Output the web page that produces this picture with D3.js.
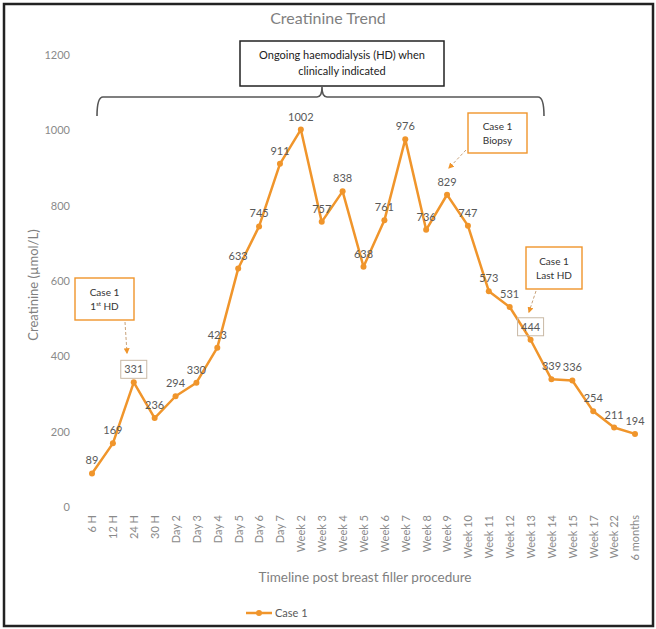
<!DOCTYPE html>
<html>
<head>
<meta charset="utf-8">
<script src="https://cdn.jsdelivr.net/npm/d3@7"></script>
<style>
  html, body { margin: 0; padding: 0; background: #fff; }
  svg { display: block; font-family: Lato, "Open Sans", sans-serif; }
</style>
</head>
<body>
<svg id="chart" width="656" height="629"></svg>
<script>
// Creatinine measurements for Case 1 over time
const timepoints = ["6 H", "12 H", "24 H", "30 H", "Day 2", "Day 3", "Day 4", "Day 5", "Day 6", "Day 7",
  "Week 2", "Week 3", "Week 4", "Week 5", "Week 6", "Week 7", "Week 8", "Week 9", "Week 10", "Week 11",
  "Week 12", "Week 13", "Week 14", "Week 15", "Week 17", "Week 22", "6 months"];
const case1 = [89, 169, 331, 236, 294, 330, 423, 633, 745, 911, 1002, 757, 838, 638, 761, 976, 736, 829,
  747, 573, 531, 444, 339, 336, 254, 211, 194];
const yTicks = [0, 200, 400, 600, 800, 1000, 1200];

const W = 656, H = 629;
const orange = "#F0952B";
const grey = "#7f7f7f";

const svg = d3.select("#chart");

// outer frame
svg.append("rect").attr("x", 4).attr("y", 4).attr("width", W - 7).attr("height", H - 7)
  .attr("fill", "none").attr("stroke", "#222").attr("stroke-width", 2.5);

const x = d3.scalePoint().domain(timepoints).range([92, 635]);
const y = d3.scaleLinear().domain([0, 1200]).range([507, 55]);

// title
svg.append("text").attr("x", 328).attr("y", 24).attr("text-anchor", "middle")
  .attr("font-size", 16).attr("fill", grey).text("Creatinine Trend");

// y axis (labels only)
const yAxis = svg.append("g").attr("transform", "translate(78,0)")
  .call(d3.axisLeft(y).tickValues(yTicks).tickFormat(d3.format("d")).tickSize(0).tickPadding(8));
yAxis.select(".domain").remove();
yAxis.selectAll("text").attr("font-size", 11).attr("fill", "#8a8a8a").attr("font-family", "Lato, sans-serif");

// x axis (rotated labels)
const xAxis = svg.append("g").attr("transform", "translate(0,507)")
  .call(d3.axisBottom(x).tickSize(0));
xAxis.select(".domain").remove();
xAxis.selectAll("text")
  .attr("font-size", 11).attr("fill", "#8a8a8a").attr("font-family", "Lato, sans-serif")
  .attr("text-anchor", "end")
  .attr("transform", "translate(0,8) rotate(-90)")
  .attr("x", 0).attr("y", 0).attr("dy", "0.35em");

// axis titles
svg.append("text").attr("transform", "translate(38,285) rotate(-90)").attr("text-anchor", "middle")
  .attr("font-size", 13).attr("fill", grey).text("Creatinine (\u00b5mol/L)");
svg.append("text").attr("x", 365).attr("y", 582).attr("text-anchor", "middle")
  .attr("font-size", 13.5).attr("fill", grey).text("Timeline post breast filler procedure");

// series line and markers
const line = d3.line().x((d, i) => x(timepoints[i])).y(d => y(d));
svg.append("path").datum(case1).attr("d", line)
  .attr("fill", "none").attr("stroke", orange).attr("stroke-width", 2.5).attr("stroke-linejoin", "round");
svg.append("g").selectAll("circle").data(case1).join("circle")
  .attr("cx", (d, i) => x(timepoints[i])).attr("cy", d => y(d)).attr("r", 3)
  .attr("fill", orange);

// value labels
const labelOffset = 9;
svg.append("g").selectAll("text").data(case1).join("text")
  .attr("x", (d, i) => x(timepoints[i])).attr("y", d => y(d) - labelOffset)
  .attr("text-anchor", "middle").attr("font-size", 11).attr("fill", "#595959")
  .text(d => d);

// boxed value labels at 24 H and Week 13
[["24 H", 331], ["Week 13", 444]].forEach(([t, v]) => {
  const cx = x(t), cy = y(v) - labelOffset - 4;
  svg.append("rect").attr("x", cx - 13).attr("y", cy - 9).attr("width", 26).attr("height", 18)
    .attr("fill", "none").attr("stroke", "#c9b9a6").attr("stroke-width", 1);
});

// annotation box and brace for the haemodialysis period
svg.append("rect").attr("x", 240).attr("y", 41).attr("width", 204).attr("height", 45)
  .attr("fill", "#fff").attr("stroke", "#222").attr("stroke-width", 1.5);
svg.append("text").attr("x", 342).attr("y", 59).attr("text-anchor", "middle")
  .attr("font-size", 11).attr("fill", "#222").text("Ongoing haemodialysis (HD) when");
svg.append("text").attr("x", 342).attr("y", 75).attr("text-anchor", "middle")
  .attr("font-size", 11).attr("fill", "#222").text("clinically indicated");

const braceL = 97, braceR = 544, braceY = 97, braceMid = 322;
svg.append("path")
  .attr("d", `M${braceL},116 Q${braceL},${braceY} ${braceL + 6},${braceY}
              L${braceMid - 5},${braceY} Q${braceMid},${braceY} ${braceMid},87
              Q${braceMid},${braceY} ${braceMid + 5},${braceY}
              L${braceR - 6},${braceY} Q${braceR},${braceY} ${braceR},116`)
  .attr("fill", "none").attr("stroke", "#555").attr("stroke-width", 1.6);

// callouts
const defs = svg.append("defs");
defs.append("marker").attr("id", "arr").attr("viewBox", "0 0 10 10").attr("refX", 8).attr("refY", 5)
  .attr("markerWidth", 6).attr("markerHeight", 6).attr("orient", "auto-start-reverse")
  .append("path").attr("d", "M0,0 L10,5 L0,10 z").attr("fill", orange);

function callout(bx, by, bw, bh, line2, sup, from, to) {
  svg.append("rect").attr("x", bx).attr("y", by).attr("width", bw).attr("height", bh)
    .attr("fill", "#fff").attr("stroke", orange).attr("stroke-width", 1.4);
  svg.append("text").attr("x", bx + bw / 2).attr("y", by + bh / 2 - 3).attr("text-anchor", "middle")
    .attr("font-size", 10).attr("fill", "#333").text("Case 1");
  const t2 = svg.append("text").attr("x", bx + bw / 2).attr("y", by + bh / 2 + 11).attr("text-anchor", "middle")
    .attr("font-size", 10).attr("fill", "#333");
  if (sup) {
    t2.append("tspan").text(line2[0]);
    t2.append("tspan").attr("font-size", 6).attr("dy", -4).text(sup);
    t2.append("tspan").attr("dy", 4).text(line2[1]);
  } else {
    t2.text(line2);
  }
  svg.append("line").attr("x1", from[0]).attr("y1", from[1]).attr("x2", to[0]).attr("y2", to[1])
    .attr("stroke", "#c8a27a").attr("stroke-width", 1).attr("stroke-dasharray", "3,2")
    .attr("marker-end", "url(#arr)");
}

callout(75, 278, 59, 42, ["1", " HD"], "st", [125, 322], [127, 353]);
callout(468, 113, 59, 40, "Biopsy", null, [466, 150], [449, 168]);
callout(526, 247, 56, 42, "Last HD", null, [536, 291], [529, 312]);

// legend
const lg = svg.append("g").attr("transform", "translate(0,613)");
lg.append("line").attr("x1", 246).attr("x2", 272).attr("y1", 0).attr("y2", 0)
  .attr("stroke", orange).attr("stroke-width", 2.5);
lg.append("circle").attr("cx", 259).attr("cy", 0).attr("r", 3).attr("fill", orange);
lg.append("text").attr("x", 275).attr("y", 4).attr("font-size", 11).attr("fill", "#595959").text("Case 1");
</script>
</body>
</html>
